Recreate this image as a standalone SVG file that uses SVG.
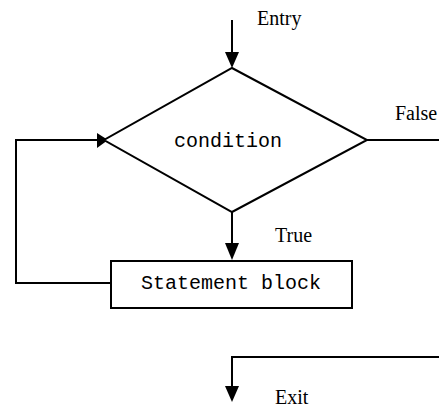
<svg xmlns="http://www.w3.org/2000/svg" width="439" height="409" viewBox="0 0 439 409">
  <style>
    .shape { fill: #fff; stroke: #000; stroke-width: 2; }
    .line { fill: none; stroke: #000; stroke-width: 2; }
    .head { fill: #000; stroke: none; }
    .mono { font-family: "Liberation Mono", "Courier New", monospace; font-size: 20px; fill: #000; }
    .label { font-family: "Liberation Serif", "Times New Roman", serif; font-size: 20px; fill: #000; }
  </style>
  <rect width="439" height="409" fill="#fff"/>

  <!-- connectors -->
  <g id="connectors">
    <!-- entry -->
    <line class="line" x1="232" y1="20" x2="232" y2="54"/>
    <polygon class="head" points="225,52 239,52 232,68"/>
    <!-- true branch -->
    <line class="line" x1="232" y1="212" x2="232" y2="244"/>
    <polygon class="head" points="225,243 239,243 232,260"/>
    <!-- loop back -->
    <polyline class="line" points="111,283 16,283 16,140 98,140"/>
    <polygon class="head" points="97,133 97,148 108,140"/>
    <!-- false branch -->
    <line class="line" x1="367" y1="140" x2="439" y2="140"/>
    <!-- exit -->
    <polyline class="line" points="439,357 232,357 232,388"/>
    <polygon class="head" points="225,386 239,386 232,402"/>
  </g>

  <g id="condition">
    <polygon class="shape" points="232,68 367,140 232,212 104,140"/>
    <text class="mono" x="228" y="147" text-anchor="middle">condition</text>
  </g>

  <g id="statement-block">
    <rect class="shape" x="111" y="261" width="241" height="47"/>
    <text class="mono" x="231" y="289" text-anchor="middle">Statement block</text>
  </g>

  <g id="labels">
    <text class="label" x="257" y="25">Entry</text>
    <text class="label" x="395" y="120">False</text>
    <text class="label" x="275" y="242">True</text>
    <text class="label" x="275" y="404">Exit</text>
  </g>
</svg>
